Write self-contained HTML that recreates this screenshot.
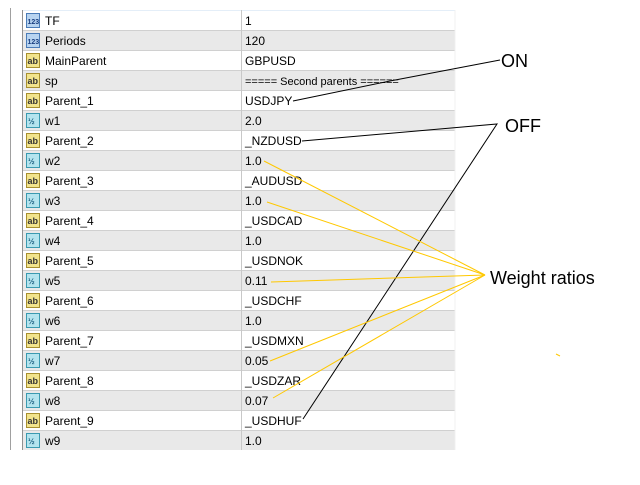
<!DOCTYPE html>
<html><head><style>
html,body{margin:0;padding:0;background:#fff;}
svg text{font-family:"Liberation Sans",sans-serif;}
</style></head><body>
<svg width="640" height="480" xmlns="http://www.w3.org/2000/svg">
<rect width="640" height="480" fill="#fff"/>
<line x1="10.5" y1="8" x2="10.5" y2="450" stroke="#a0a0a0"/>
<g id="rows" font-size="12" fill="#000"></g>
<g font-size="12">
<!-- rows -->
<rect x="22" y="10" width="433" height="20" fill="#fff"/>
<rect x="22" y="30" width="433" height="20" fill="#e9e9e9"/>
<rect x="22" y="50" width="433" height="20" fill="#fff"/>
<rect x="22" y="70" width="433" height="20" fill="#e9e9e9"/>
<rect x="22" y="90" width="433" height="20" fill="#fff"/>
<rect x="22" y="110" width="433" height="20" fill="#e9e9e9"/>
<rect x="22" y="130" width="433" height="20" fill="#fff"/>
<rect x="22" y="150" width="433" height="20" fill="#e9e9e9"/>
<rect x="22" y="170" width="433" height="20" fill="#fff"/>
<rect x="22" y="190" width="433" height="20" fill="#e9e9e9"/>
<rect x="22" y="210" width="433" height="20" fill="#fff"/>
<rect x="22" y="230" width="433" height="20" fill="#e9e9e9"/>
<rect x="22" y="250" width="433" height="20" fill="#fff"/>
<rect x="22" y="270" width="433" height="20" fill="#e9e9e9"/>
<rect x="22" y="290" width="433" height="20" fill="#fff"/>
<rect x="22" y="310" width="433" height="20" fill="#e9e9e9"/>
<rect x="22" y="330" width="433" height="20" fill="#fff"/>
<rect x="22" y="350" width="433" height="20" fill="#e9e9e9"/>
<rect x="22" y="370" width="433" height="20" fill="#fff"/>
<rect x="22" y="390" width="433" height="20" fill="#e9e9e9"/>
<rect x="22" y="410" width="433" height="20" fill="#fff"/>
<rect x="22" y="430" width="433" height="20" fill="#e9e9e9"/>
<g stroke="#d0d0d0">
<line x1="22" y1="10.5" x2="455" y2="10.5" stroke="#e4eef8"/>
<line x1="22" y1="30.5" x2="455" y2="30.5"/><line x1="22" y1="50.5" x2="455" y2="50.5"/>
<line x1="22" y1="70.5" x2="455" y2="70.5"/><line x1="22" y1="90.5" x2="455" y2="90.5"/>
<line x1="22" y1="110.5" x2="455" y2="110.5"/><line x1="22" y1="130.5" x2="455" y2="130.5"/>
<line x1="22" y1="150.5" x2="455" y2="150.5"/><line x1="22" y1="170.5" x2="455" y2="170.5"/>
<line x1="22" y1="190.5" x2="455" y2="190.5"/><line x1="22" y1="210.5" x2="455" y2="210.5"/>
<line x1="22" y1="230.5" x2="455" y2="230.5"/><line x1="22" y1="250.5" x2="455" y2="250.5"/>
<line x1="22" y1="270.5" x2="455" y2="270.5"/><line x1="22" y1="290.5" x2="455" y2="290.5"/>
<line x1="22" y1="310.5" x2="455" y2="310.5"/><line x1="22" y1="330.5" x2="455" y2="330.5"/>
<line x1="22" y1="350.5" x2="455" y2="350.5"/><line x1="22" y1="370.5" x2="455" y2="370.5"/>
<line x1="22" y1="390.5" x2="455" y2="390.5"/><line x1="22" y1="410.5" x2="455" y2="410.5"/>
<line x1="22" y1="430.5" x2="455" y2="430.5"/>
<line x1="241.5" y1="10" x2="241.5" y2="450" stroke="#c8c8c8"/>
</g>
<line x1="22.5" y1="10" x2="22.5" y2="450" stroke="#909090"/>
<line x1="455" y1="10" x2="455" y2="450" stroke="#f0f0f0"/>
</g>
<g font-size="12" fill="#000">
<!-- icons & labels generated inline -->
<defs>
<g id="i123"><rect x="0.5" y="0.5" width="13" height="14" fill="#b8d4f0" stroke="#4a7cb8"/><text x="1.5" y="11" font-size="7" fill="#1a3f80" font-weight="bold">123</text></g>
<g id="iab"><rect x="0.5" y="0.5" width="13" height="14" fill="#f2e48c" stroke="#a89030"/><text x="1.5" y="11" font-size="9" fill="#333" font-weight="bold">ab</text></g>
<g id="ihalf"><rect x="0.5" y="0.5" width="13" height="14" fill="#b4e4ee" stroke="#3a9ab0"/><text x="2" y="11" font-size="8" fill="#1a5f80" font-weight="bold">½</text></g>
</defs>
<use href="#i123" x="26" y="13"/><text x="45" y="25">TF</text><text x="245" y="25">1</text>
<use href="#i123" x="26" y="33"/><text x="45" y="45">Periods</text><text x="245" y="45">120</text>
<use href="#iab" x="26" y="53"/><text x="45" y="65">MainParent</text><text x="245" y="65">GBPUSD</text>
<use href="#iab" x="26" y="73"/><text x="45" y="85">sp</text><text x="245" y="85" font-size="11">===== Second parents ======</text>
<use href="#iab" x="26" y="93"/><text x="45" y="105">Parent_1</text><text x="245" y="105">USDJPY</text>
<use href="#ihalf" x="26" y="113"/><text x="45" y="125">w1</text><text x="245" y="125">2.0</text>
<use href="#iab" x="26" y="133"/><text x="45" y="145">Parent_2</text><text x="245" y="145">_NZDUSD</text>
<use href="#ihalf" x="26" y="153"/><text x="45" y="165">w2</text><text x="245" y="165">1.0</text>
<use href="#iab" x="26" y="173"/><text x="45" y="185">Parent_3</text><text x="245" y="185">_AUDUSD</text>
<use href="#ihalf" x="26" y="193"/><text x="45" y="205">w3</text><text x="245" y="205">1.0</text>
<use href="#iab" x="26" y="213"/><text x="45" y="225">Parent_4</text><text x="245" y="225">_USDCAD</text>
<use href="#ihalf" x="26" y="233"/><text x="45" y="245">w4</text><text x="245" y="245">1.0</text>
<use href="#iab" x="26" y="253"/><text x="45" y="265">Parent_5</text><text x="245" y="265">_USDNOK</text>
<use href="#ihalf" x="26" y="273"/><text x="45" y="285">w5</text><text x="245" y="285">0.11</text>
<use href="#iab" x="26" y="293"/><text x="45" y="305">Parent_6</text><text x="245" y="305">_USDCHF</text>
<use href="#ihalf" x="26" y="313"/><text x="45" y="325">w6</text><text x="245" y="325">1.0</text>
<use href="#iab" x="26" y="333"/><text x="45" y="345">Parent_7</text><text x="245" y="345">_USDMXN</text>
<use href="#ihalf" x="26" y="353"/><text x="45" y="365">w7</text><text x="245" y="365">0.05</text>
<use href="#iab" x="26" y="373"/><text x="45" y="385">Parent_8</text><text x="245" y="385">_USDZAR</text>
<use href="#ihalf" x="26" y="393"/><text x="45" y="405">w8</text><text x="245" y="405">0.07</text>
<use href="#iab" x="26" y="413"/><text x="45" y="425">Parent_9</text><text x="245" y="425">_USDHUF</text>
<use href="#ihalf" x="26" y="433"/><text x="45" y="445">w9</text><text x="245" y="445">1.0</text>
</g>
<!-- connectors -->
<g stroke="#000" stroke-width="1" fill="none">
<polyline points="293,101 390,81 500,60"/>
<polyline points="302,141 497,124 303,419"/>
</g>
<g stroke="#ffc800" stroke-width="1" fill="none">
<line x1="264" y1="161" x2="485" y2="275"/>
<line x1="267" y1="202" x2="485" y2="275"/>
<line x1="271" y1="282" x2="485" y2="275"/>
<line x1="270" y1="361" x2="485" y2="275"/>
<line x1="273" y1="398" x2="485" y2="275"/>
<line x1="556" y1="354" x2="560" y2="356"/>
</g>
<g font-size="18" fill="#000">
<text x="501" y="67">ON</text>
<text x="505" y="132">OFF</text>
<text x="490" y="284">Weight ratios</text>
</g>
</svg>
</body></html>
